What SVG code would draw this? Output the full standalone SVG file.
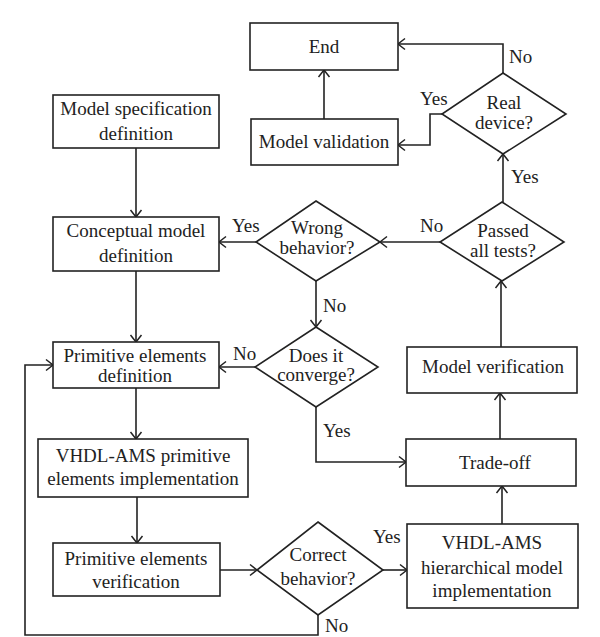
<svg xmlns="http://www.w3.org/2000/svg" width="600" height="637" viewBox="0 0 600 637">
<defs>
<marker id="ah" markerUnits="userSpaceOnUse" markerWidth="16" markerHeight="16" refX="8" refY="8" orient="auto" overflow="visible">
<path d="M1,2.5 L8,8 L1,13.5" fill="none" stroke="#222" stroke-width="1.5"/>
</marker>
<style>
rect,polygon{fill:#fff;stroke:#222;stroke-width:1.6}
.c path{fill:none;stroke:#222;stroke-width:1.6;marker-end:url(#ah)}
.c path.n{marker-end:none}
text{font-family:"Liberation Serif","Times New Roman",serif;font-size:19px;fill:#222;text-anchor:middle}
text.l{text-anchor:start}
</style>
</defs>
<rect x="0" y="0" width="600" height="637" style="fill:#fff;stroke:none"/>
<g class="c" id="connectors">
<path d="M136,148 V217"/>
<path d="M136,271 V342"/>
<path d="M136,388 V439"/>
<path d="M137,497 V543"/>
<path d="M220,570 H257"/>
<path d="M383,570 H407"/>
<path d="M318,615 V635 H25 V365 H53"/>
<path d="M502,524 V486"/>
<path d="M500,439 V393"/>
<path d="M501,347 V281"/>
<path d="M503,202 V154"/>
<path d="M503,73 V44 H398"/>
<path d="M442,114 H430 V145 H398"/>
<path d="M324,119 V70"/>
<path d="M440,242 H380"/>
<path d="M256,242 H219"/>
<path d="M316,281 V327"/>
<path d="M255,367 H219"/>
<path d="M316,407 V462 H406"/>
</g>
<g id="labels">
<text class="l" x="509" y="63">No</text>
<text class="l" x="420" y="105">Yes</text>
<text class="l" x="511" y="183">Yes</text>
<text class="l" x="232" y="232">Yes</text>
<text class="l" x="420" y="232">No</text>
<text class="l" x="323" y="312">No</text>
<text class="l" x="233" y="360">No</text>
<text class="l" x="323" y="437">Yes</text>
<text class="l" x="373" y="543">Yes</text>
<text class="l" x="325" y="632">No</text>
</g>
<g id="end"><rect x="250" y="23" width="148" height="47"/><text x="324" y="53">End</text></g>
<g id="model-validation"><rect x="251" y="119" width="147" height="46"/><text x="324" y="148">Model validation</text></g>
<g id="real-device"><polygon points="503,73 566,114 503,154 442,114"/><text x="504" y="109">Real</text><text x="504" y="129">device?</text></g>
<g id="model-spec"><rect x="53" y="95" width="166" height="53"/><text x="136" y="115">Model specification</text><text x="136" y="140">definition</text></g>
<g id="conceptual"><rect x="53" y="217" width="166" height="54"/><text x="136" y="237">Conceptual model</text><text x="136" y="262">definition</text></g>
<g id="wrong-behavior"><polygon points="316,201 380,242 316,281 256,242"/><text x="317" y="234">Wrong</text><text x="317" y="254">behavior?</text></g>
<g id="passed-tests"><polygon points="502,202 564,242 502,281 440,242"/><text x="503" y="237">Passed</text><text x="503" y="257">all tests?</text></g>
<g id="primitive-def"><rect x="53" y="342" width="166" height="46"/><text x="135" y="362">Primitive elements</text><text x="135" y="382">definition</text></g>
<g id="converge"><polygon points="316,327 378,367 316,407 255,367"/><text x="316" y="362">Does it</text><text x="316" y="381">converge?</text></g>
<g id="model-verification"><rect x="407" y="347" width="170" height="46"/><text x="493" y="373">Model verification</text></g>
<g id="trade-off"><rect x="406" y="439" width="170" height="47"/><text x="495" y="469">Trade-off</text></g>
<g id="vhdl-primitive"><rect x="38" y="439" width="210" height="58"/><text x="143" y="462">VHDL-AMS primitive</text><text x="143" y="485">elements implementation</text></g>
<g id="primitive-verif"><rect x="53" y="543" width="167" height="53"/><text x="136" y="565">Primitive elements</text><text x="136" y="588">verification</text></g>
<g id="correct-behavior"><polygon points="318,522 383,570 318,615 257,570"/><text x="318" y="561">Correct</text><text x="318" y="585">behavior?</text></g>
<g id="vhdl-hier"><rect x="407" y="524" width="171" height="84"/><text x="492" y="549">VHDL-AMS</text><text x="492" y="574">hierarchical model</text><text x="492" y="597">implementation</text></g>
</svg>
